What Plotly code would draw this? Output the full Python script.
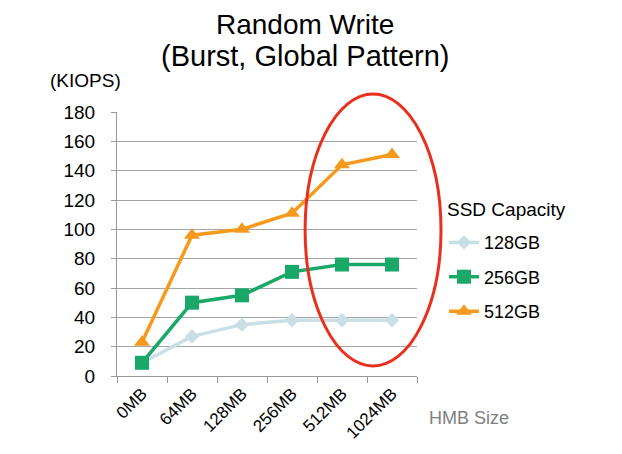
import plotly.graph_objects as go

categories = ["0MB", "64MB", "128MB", "256MB", "512MB", "1024MB"]
series_names = ["128GB", "256GB", "512GB"]
kiops_128 = [9, 27, 35, 38, 38, 38]
kiops_256 = [9, 50, 55, 71, 76, 76]
kiops_512 = [23, 96, 100, 111, 144, 151]
y_ticks = [0, 20, 40, 60, 80, 100, 120, 140, 160, 180]

FONT = "Liberation Sans, Arial, sans-serif"

fig = go.Figure()
styles = [
    dict(color="#c8dfe6", symbol="diamond", size=11),
    dict(color="#1aa868", symbol="square", size=14),
    dict(color="#f59a1c", symbol="triangle-up", size=14),
]
for name, vals, st in zip(series_names, [kiops_128, kiops_256, kiops_512], styles):
    fig.add_trace(go.Scatter(
        x=categories, y=vals, name=name, mode="lines+markers", legendgroup=name,
        line=dict(color=st["color"], width=3.5),
        marker=dict(color=st["color"], symbol=st["symbol"], size=st["size"]),
    ))

# red ellipse highlight (paper coords so it is not clipped by the plot area)
fig.add_shape(type="circle", xref="paper", yref="paper",
              x0=0.627, x1=1.08, y0=0.038, y1=1.068,
              line=dict(color="#e8301c", width=3), layer="above")

fig.update_layout(
    width=622, height=454,
    margin=dict(l=109, r=213, t=104, b=86, autoexpand=False),
    paper_bgcolor="white", plot_bgcolor="white",
    font=dict(family=FONT, color="#000000", size=18),
    showlegend=True,
    legend=dict(x=1.09, xanchor="left", y=0.575, yanchor="top",
                font=dict(size=18), tracegroupgap=8, itemwidth=30,
                bgcolor="rgba(0,0,0,0)"),
    xaxis=dict(type="category", categoryorder="array", categoryarray=categories,
               tickangle=-45, tickfont=dict(size=17), automargin=False,
               showline=True, linecolor="#999999", linewidth=1,
               ticks="outside", ticklen=6, tickcolor="#999999",
               tickson="boundaries", showgrid=False,
               range=[-0.5, 5.5]),
    yaxis=dict(range=[0, 180], tickvals=y_ticks, tickfont=dict(size=19),
               automargin=False,
               showline=True, linecolor="#999999", linewidth=1,
               ticks="outside", ticklen=5, tickcolor="#999999",
               showgrid=True, gridcolor="#a6a6a6", gridwidth=1,
               zeroline=False, ticklabelstandoff=12),
    annotations=[
        dict(text="Random Write", xref="paper", yref="paper", x=0.627, y=1.333,
             xanchor="center", yanchor="middle", showarrow=False,
             font=dict(size=28)),
        dict(text="(Burst, Global Pattern)", xref="paper", yref="paper",
             x=0.627, y=1.212, xanchor="center", yanchor="middle",
             showarrow=False, font=dict(size=29)),
        dict(text="(KIOPS)", xref="paper", yref="paper", x=-0.23, y=1.121,
             xanchor="left", yanchor="middle", showarrow=False,
             font=dict(size=19)),
        dict(text="SSD Capacity", xref="paper", yref="paper", x=1.093, y=0.629,
             xanchor="left", yanchor="middle", showarrow=False,
             font=dict(size=19)),
        dict(text="HMB Size", xref="paper", yref="paper", x=1.033, y=-0.159,
             xanchor="left", yanchor="middle", showarrow=False,
             font=dict(size=18, color="#808080")),
    ],
)

fig.write_html("out.html")
